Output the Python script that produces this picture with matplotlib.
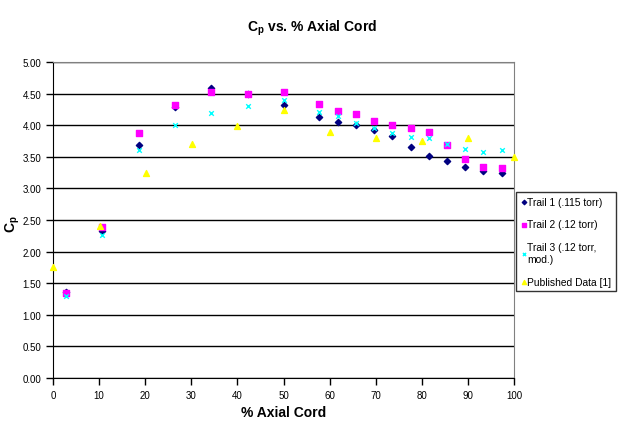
import matplotlib
matplotlib.use("Agg")
import matplotlib.pyplot as plt

# Data
trail_x = [2.8, 10.6, 18.6, 26.5, 34.3, 42.2, 50.0, 57.8, 61.8, 65.7,
           69.7, 73.6, 77.6, 81.5, 85.4, 89.4, 93.3, 97.3]
trail1_cp = [1.36, 2.32, 3.69, 4.29, 4.59, 4.49, 4.32, 4.13, 4.05, 4.00,
             3.93, 3.83, 3.65, 3.52, 3.43, 3.34, 3.27, 3.25]
trail2_cp = [1.34, 2.39, 3.87, 4.32, 4.52, 4.50, 4.52, 4.33, 4.23, 4.17,
             4.06, 4.00, 3.95, 3.89, 3.68, 3.46, 3.34, 3.32]
trail3_cp = [1.29, 2.27, 3.61, 4.00, 4.20, 4.31, 4.40, 4.21, 4.14, 4.04,
             3.96, 3.88, 3.82, 3.79, 3.71, 3.62, 3.58, 3.61]
pub_x = [0, 10.2, 20.2, 30.2, 40, 50, 60, 70, 80, 90, 100]
pub_cp = [1.75, 2.40, 3.25, 3.70, 3.99, 4.24, 3.90, 3.79, 3.75, 3.79, 3.49]

x_ticks = list(range(0, 101, 10))
y_ticks = [0.0, 0.5, 1.0, 1.5, 2.0, 2.5, 3.0, 3.5, 4.0, 4.5, 5.0]

plt.rcParams["font.family"] = ["Liberation Sans", "DejaVu Sans"]

fig = plt.figure(figsize=(6.24, 4.27), dpi=100)
ax = fig.add_axes([53 / 624, 1 - 379 / 427, 461 / 624, 316 / 427])

ax.scatter(trail_x, trail1_cp, marker="D", s=10, color="#000080",
           label="Trail 1 (.115 torr)", zorder=3, clip_on=False)
ax.scatter(trail_x, trail2_cp, marker="s", s=22, color="#FF00FF",
           label="Trail 2 (.12 torr)", zorder=3, clip_on=False)
ax.scatter(trail_x, trail3_cp, marker="x", s=11, color="#00FFFF",
           linewidths=1, label="Trail 3 (.12 torr,\nmod.)", zorder=4, clip_on=False)
ax.scatter(pub_x, pub_cp, marker="^", s=18, color="#FFFF00",
           label="Published Data [1]", zorder=3, clip_on=False)

ax.set_xlim(0, 100)
ax.set_ylim(0, 5)
ax.set_xticks(x_ticks)
ax.set_yticks(y_ticks)
ax.set_yticklabels([f"{v:.2f}" for v in y_ticks])
ax.tick_params(labelsize=7, direction="out", length=5, width=1, color="black")

ax.grid(True, axis="y", color="black", linewidth=1)
ax.set_axisbelow(True)
ax.spines["top"].set_color("#808080")
ax.spines["right"].set_color("#808080")

ax.set_xlabel("% Axial Cord", fontsize=10, fontweight="bold", labelpad=4)
ax.set_ylabel("C$_\\mathregular{p}$", fontsize=10, fontweight="bold")
ax.yaxis.set_label_coords(-0.067, 0.49)
fig.suptitle("C$_\\mathregular{p}$ vs. % Axial Cord", fontsize=10,
             fontweight="bold", y=1 - 19 / 427)

leg = fig.legend(loc="upper left", bbox_to_anchor=(516 / 624, 1 - 193 / 427),
                 fontsize=7.4, frameon=True, fancybox=False, handletextpad=0.05,
                 handlelength=0.6, labelspacing=1.25, borderpad=0.45,
                 scatterpoints=1, borderaxespad=0, markerscale=0.7)
leg.get_frame().set_edgecolor("black")
leg.get_frame().set_linewidth(1)

fig.savefig("out.png", dpi=100)
